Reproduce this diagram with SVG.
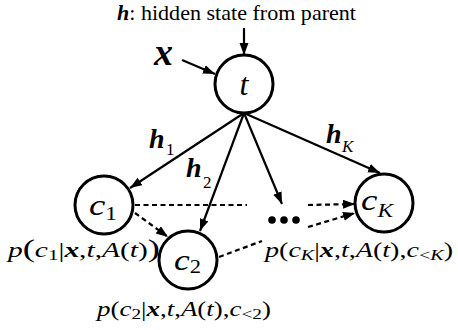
<svg xmlns="http://www.w3.org/2000/svg" width="458" height="330" viewBox="0 0 458 330">
<style>
.node{fill:#fff;stroke:#000;stroke-width:3}
.edge{stroke:#000;stroke-width:2.2;fill:none}
.dash{stroke:#000;stroke-width:2.2;fill:none;stroke-dasharray:5 3.5}
.tr{font-family:"Liberation Serif","Times New Roman",serif;fill:#000}
.bi{font-family:"Liberation Serif","Times New Roman",serif;font-weight:bold;font-style:italic;fill:#000}
.m{font-family:"Liberation Serif","Times New Roman",serif;font-style:italic;fill:#000}
.mr{font-style:normal}
</style>
<defs>
<marker id="ah" markerUnits="userSpaceOnUse" markerWidth="13" markerHeight="10" refX="12" refY="4.5" orient="auto">
<path d="M0,0 L12,4.5 L0,9 z" fill="#000"/>
</marker>
</defs>
<rect width="458" height="330" fill="#fff"/>
<text class="tr" x="117" y="20" font-size="22" textLength="239" lengthAdjust="spacingAndGlyphs"><tspan class="bi">h</tspan>: hidden state from parent</text>
<text class="bi" x="154" y="65" font-size="38">x</text>
<g id="connectors">
<line class="edge" x1="244" y1="28" x2="244" y2="55" marker-end="url(#ah)"/>
<line class="edge" x1="182" y1="60" x2="215" y2="74" marker-end="url(#ah)"/>
<line class="edge" x1="244" y1="113" x2="130" y2="188" marker-end="url(#ah)"/>
<line class="edge" x1="244" y1="113" x2="200" y2="231" marker-end="url(#ah)"/>
<line class="edge" x1="244" y1="113" x2="282" y2="204" marker-end="url(#ah)"/>
<line class="edge" x1="244" y1="113" x2="380" y2="173" marker-end="url(#ah)"/>
<line class="dash" x1="135" y1="205" x2="247" y2="205"/>
<line class="dash" x1="135" y1="213" x2="168" y2="237" marker-end="url(#ah)"/>
<line class="dash" x1="219" y1="257" x2="262" y2="241"/>
<line class="dash" x1="308" y1="205" x2="355" y2="204" marker-end="url(#ah)"/>
<line class="dash" x1="308" y1="227" x2="355" y2="213" marker-end="url(#ah)"/>
<circle cx="272" cy="220" r="3.8" fill="#000"/>
<circle cx="284" cy="220" r="3.8" fill="#000"/>
<circle cx="296" cy="220" r="3.8" fill="#000"/>
<text class="bi" x="149" y="148" font-size="28">h</text>
<text class="tr" x="166" y="155" font-size="17">1</text>
<text class="bi" x="186" y="177" font-size="28">h</text>
<text class="tr" x="203" y="188" font-size="17">2</text>
<text class="bi" x="326" y="143" font-size="28">h</text>
<text class="tr" x="342" y="152" font-size="17" font-style="italic">K</text>
</g>
<g id="t">
<circle class="node" cx="244" cy="84" r="29"/>
<text class="tr" x="244" y="95" font-size="32" font-style="italic" text-anchor="middle">t</text>
</g>
<g id="c1">
<circle class="node" cx="104" cy="205" r="29"/>
<text class="m" x="89" y="215" font-size="30" textLength="28" lengthAdjust="spacingAndGlyphs">c<tspan class="mr" font-size="19" dy="5">1</tspan></text>
</g>
<g id="c2">
<circle class="node" cx="188" cy="260" r="29"/>
<text class="m" x="174" y="270" font-size="30" textLength="27" lengthAdjust="spacingAndGlyphs">c<tspan class="mr" font-size="19" dy="3">2</tspan></text>
</g>
<g id="cK">
<circle class="node" cx="384" cy="203" r="29"/>
<text class="m" x="361" y="210" font-size="30" textLength="32" lengthAdjust="spacingAndGlyphs">c<tspan font-size="19" dy="7">K</tspan></text>
</g>
<text class="m" x="8" y="257" font-size="21" textLength="152" lengthAdjust="spacingAndGlyphs">p<tspan class="mr" font-size="26">(</tspan>c<tspan class="mr" font-size="15" dy="3">1</tspan><tspan class="mr" dy="-3">|</tspan><tspan font-weight="bold">x</tspan><tspan class="mr">,</tspan>t<tspan class="mr">,</tspan>A<tspan class="mr">(</tspan>t<tspan class="mr">)</tspan><tspan class="mr" font-size="26">)</tspan></text>
<text class="m" x="97" y="316" font-size="21" textLength="174" lengthAdjust="spacingAndGlyphs">p<tspan class="mr">(</tspan>c<tspan class="mr" font-size="15" dy="3">2</tspan><tspan class="mr" dy="-3">|</tspan><tspan font-weight="bold">x</tspan><tspan class="mr">,</tspan>t<tspan class="mr">,</tspan>A<tspan class="mr">(</tspan>t<tspan class="mr">),</tspan>c<tspan class="mr" font-size="15" dy="3">&lt;2</tspan><tspan class="mr" dy="-3">)</tspan></text>
<text class="m" x="265" y="257" font-size="21" textLength="188" lengthAdjust="spacingAndGlyphs">p<tspan class="mr">(</tspan>c<tspan font-size="15" dy="3">K</tspan><tspan class="mr" dy="-3">|</tspan><tspan font-weight="bold">x</tspan><tspan class="mr">,</tspan>t<tspan class="mr">,</tspan>A<tspan class="mr">(</tspan>t<tspan class="mr">),</tspan>c<tspan class="mr" font-size="15" dy="3">&lt;</tspan><tspan font-size="15">K</tspan><tspan class="mr" dy="-3">)</tspan></text>
</svg>
